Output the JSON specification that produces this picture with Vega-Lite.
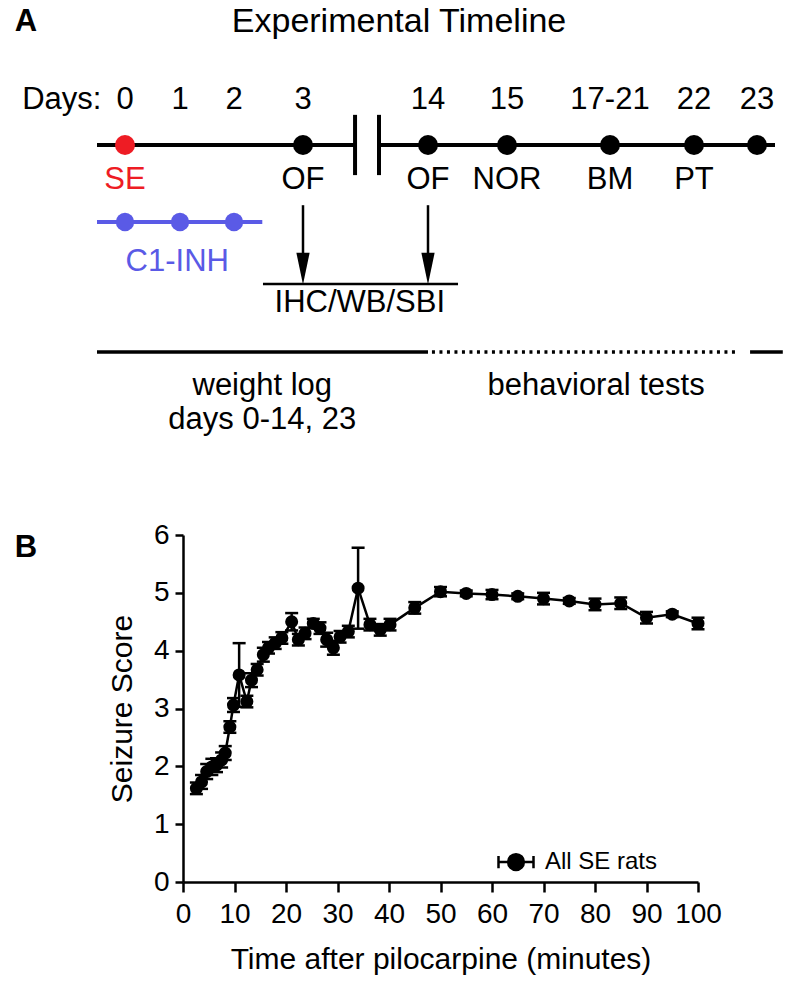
{
"$schema":"https://vega.github.io/schema/vega-lite/v6.json",
"width":800,"height":981,"padding":0,"autosize":{"type":"none"},"background":"white",
"config":{"view":{"stroke":null},"text":{"font":"Liberation Sans","color":"black","fontSize":31,"baseline":"middle","align":"center"}},
"datasets":{
 "days":[{"day":0,"label":"0"},{"day":1,"label":"1"},{"day":2,"label":"2"},{"day":3,"label":"3"},{"day":14,"label":"14"},{"day":15,"label":"15"},{"day":19,"label":"17-21"},{"day":22,"label":"22"},{"day":23,"label":"23"}],
 "milestones":[{"day":0,"event":"SE"},{"day":3,"event":"OF"},{"day":14,"event":"OF"},{"day":15,"event":"NOR"},{"day":19,"event":"BM"},{"day":22,"event":"PT"},{"day":23,"event":""}],
 "c1inh":[{"day":0},{"day":1},{"day":2}],
 "sampling":[{"day":3},{"day":14}],
 "seizure":[
  {"t":2.6,"mean":1.62,"sem":0.1},{"t":3.6,"mean":1.73,"sem":0.12},{"t":4.6,"mean":1.91,"sem":0.13},{"t":5.6,"mean":1.99,"sem":0.14},
  {"t":6.5,"mean":2.02,"sem":0.12},{"t":7.5,"mean":2.11,"sem":0.13},{"t":8.2,"mean":2.23,"sem":0.12},{"t":9.1,"mean":2.68,"sem":0.1},
  {"t":9.8,"mean":3.06,"sem":0.12},{"t":10.9,"mean":3.58,"sem":0.55},{"t":12.4,"mean":3.12,"sem":0.1},{"t":13.3,"mean":3.49,"sem":0.12},
  {"t":14.4,"mean":3.67,"sem":0.1},{"t":15.6,"mean":3.93,"sem":0.12},{"t":16.6,"mean":4.05,"sem":0.1},{"t":17.9,"mean":4.13,"sem":0.1},
  {"t":19.2,"mean":4.22,"sem":0.1},{"t":21.1,"mean":4.5,"sem":0.15},{"t":22.4,"mean":4.19,"sem":0.1},{"t":23.7,"mean":4.3,"sem":0.1},
  {"t":25.3,"mean":4.47,"sem":0.08},{"t":26.6,"mean":4.39,"sem":0.1},{"t":27.9,"mean":4.19,"sem":0.12},{"t":29.2,"mean":4.05,"sem":0.12},
  {"t":30.5,"mean":4.24,"sem":0.1},{"t":32.1,"mean":4.33,"sem":0.1},{"t":34,"mean":5.08,"sem":0.7},{"t":36.3,"mean":4.45,"sem":0.1},
  {"t":38.3,"mean":4.36,"sem":0.1},{"t":40.2,"mean":4.45,"sem":0.1},{"t":45,"mean":4.74,"sem":0.1},{"t":50,"mean":5.02,"sem":0.08},
  {"t":55,"mean":4.99,"sem":0.05},{"t":60,"mean":4.97,"sem":0.08},{"t":65,"mean":4.94,"sem":0.05},{"t":70,"mean":4.9,"sem":0.1},
  {"t":75,"mean":4.86,"sem":0.05},{"t":80,"mean":4.8,"sem":0.1},{"t":85,"mean":4.82,"sem":0.1},{"t":90,"mean":4.57,"sem":0.1},
  {"t":95,"mean":4.63,"sem":0.05},{"t":100,"mean":4.47,"sem":0.1}
 ]
},
"resolve":{"scale":{"x":"independent","y":"independent"}},
"layer":[
 {"layer":[
  {"data":{"values":[{}]},"mark":{"type":"rule","strokeWidth":4,"color":"black"},"encoding":{"x":{"datum":-0.5,"type":"quantitative","scale":{"type":"linear","domain":[-0.5,0,1,2,3,14,15,19,22,23,23.3],"range":[97,125,180,234,303,428,507,610,694,757,775],"zero":false,"nice":false},"axis":null},"x2":{"datum":7.58},"y":{"datum":2,"type":"quantitative","scale":{"type":"linear","domain":[0,1,2,3,4,5,6,7,8,9,10,11],"range":[22,100,145,180,222,262,284,303,352,386,420,548],"zero":false,"nice":false},"axis":null}}},
  {"data":{"values":[{}]},"mark":{"type":"rule","strokeWidth":4,"color":"black"},"encoding":{"x":{"datum":9.69,"type":"quantitative","scale":{"type":"linear","domain":[-0.5,0,1,2,3,14,15,19,22,23,23.3],"range":[97,125,180,234,303,428,507,610,694,757,775],"zero":false,"nice":false},"axis":null},"x2":{"datum":23.3},"y":{"datum":2,"type":"quantitative","scale":{"type":"linear","domain":[0,1,2,3,4,5,6,7,8,9,10,11],"range":[22,100,145,180,222,262,284,303,352,386,420,548],"zero":false,"nice":false},"axis":null}}},
  {"data":{"values":[{}]},"mark":{"type":"rule","strokeWidth":4,"color":"black"},"encoding":{"x":{"datum":7.58,"type":"quantitative","scale":{"type":"linear","domain":[-0.5,0,1,2,3,14,15,19,22,23,23.3],"range":[97,125,180,234,303,428,507,610,694,757,775],"zero":false,"nice":false},"axis":null},"y":{"datum":1.33,"type":"quantitative","scale":{"type":"linear","domain":[0,1,2,3,4,5,6,7,8,9,10,11],"range":[22,100,145,180,222,262,284,303,352,386,420,548],"zero":false,"nice":false},"axis":null},"y2":{"datum":2.86}}},
  {"data":{"values":[{}]},"mark":{"type":"rule","strokeWidth":4,"color":"black"},"encoding":{"x":{"datum":9.69,"type":"quantitative","scale":{"type":"linear","domain":[-0.5,0,1,2,3,14,15,19,22,23,23.3],"range":[97,125,180,234,303,428,507,610,694,757,775],"zero":false,"nice":false},"axis":null},"y":{"datum":1.33,"type":"quantitative","scale":{"type":"linear","domain":[0,1,2,3,4,5,6,7,8,9,10,11],"range":[22,100,145,180,222,262,284,303,352,386,420,548],"zero":false,"nice":false},"axis":null},"y2":{"datum":2.86}}},
  {"data":{"name":"milestones"},"mark":{"type":"point","filled":true,"size":400,"opacity":1},"encoding":{"x":{"field":"day","type":"quantitative","scale":{"type":"linear","domain":[-0.5,0,1,2,3,14,15,19,22,23,23.3],"range":[97,125,180,234,303,428,507,610,694,757,775],"zero":false,"nice":false},"axis":null},"y":{"datum":2,"type":"quantitative","scale":{"type":"linear","domain":[0,1,2,3,4,5,6,7,8,9,10,11],"range":[22,100,145,180,222,262,284,303,352,386,420,548],"zero":false,"nice":false},"axis":null},"color":{"condition":{"test":"datum.day === 0","value":"#ee1c24"},"value":"black"}}},
  {"data":{"name":"milestones"},"mark":{"type":"text"},"encoding":{"x":{"field":"day","type":"quantitative","scale":{"type":"linear","domain":[-0.5,0,1,2,3,14,15,19,22,23,23.3],"range":[97,125,180,234,303,428,507,610,694,757,775],"zero":false,"nice":false},"axis":null},"y":{"datum":3,"type":"quantitative","scale":{"type":"linear","domain":[0,1,2,3,4,5,6,7,8,9,10,11],"range":[22,100,145,180,222,262,284,303,352,386,420,548],"zero":false,"nice":false},"axis":null},"text":{"field":"event"},"color":{"condition":{"test":"datum.day === 0","value":"#ee1c24"},"value":"black"}}},
  {"data":{"name":"days"},"mark":{"type":"text"},"encoding":{"x":{"field":"day","type":"quantitative","scale":{"type":"linear","domain":[-0.5,0,1,2,3,14,15,19,22,23,23.3],"range":[97,125,180,234,303,428,507,610,694,757,775],"zero":false,"nice":false},"axis":null},"y":{"datum":1,"type":"quantitative","scale":{"type":"linear","domain":[0,1,2,3,4,5,6,7,8,9,10,11],"range":[22,100,145,180,222,262,284,303,352,386,420,548],"zero":false,"nice":false},"axis":null},"text":{"field":"label"}}},
  {"data":{"values":[{"label":"Days:"}]},"mark":{"type":"text","align":"right"},"encoding":{"x":{"datum":-0.42,"type":"quantitative","scale":{"type":"linear","domain":[-0.5,0,1,2,3,14,15,19,22,23,23.3],"range":[97,125,180,234,303,428,507,610,694,757,775],"zero":false,"nice":false},"axis":null},"y":{"datum":1,"type":"quantitative","scale":{"type":"linear","domain":[0,1,2,3,4,5,6,7,8,9,10,11],"range":[22,100,145,180,222,262,284,303,352,386,420,548],"zero":false,"nice":false},"axis":null},"text":{"field":"label"}}},
  {"data":{"values":[{}]},"mark":{"type":"rule","strokeWidth":4,"color":"#5a5ae6"},"encoding":{"x":{"datum":-0.5,"type":"quantitative","scale":{"type":"linear","domain":[-0.5,0,1,2,3,14,15,19,22,23,23.3],"range":[97,125,180,234,303,428,507,610,694,757,775],"zero":false,"nice":false},"axis":null},"x2":{"datum":2.41},"y":{"datum":4,"type":"quantitative","scale":{"type":"linear","domain":[0,1,2,3,4,5,6,7,8,9,10,11],"range":[22,100,145,180,222,262,284,303,352,386,420,548],"zero":false,"nice":false},"axis":null}}},
  {"data":{"name":"c1inh"},"mark":{"type":"point","filled":true,"size":340,"opacity":1,"color":"#5a5ae6"},"encoding":{"x":{"field":"day","type":"quantitative","scale":{"type":"linear","domain":[-0.5,0,1,2,3,14,15,19,22,23,23.3],"range":[97,125,180,234,303,428,507,610,694,757,775],"zero":false,"nice":false},"axis":null},"y":{"datum":4,"type":"quantitative","scale":{"type":"linear","domain":[0,1,2,3,4,5,6,7,8,9,10,11],"range":[22,100,145,180,222,262,284,303,352,386,420,548],"zero":false,"nice":false},"axis":null}}},
  {"data":{"values":[{"label":"C1-INH"}]},"mark":{"type":"text","color":"#5a5ae6"},"encoding":{"x":{"datum":0.95,"type":"quantitative","scale":{"type":"linear","domain":[-0.5,0,1,2,3,14,15,19,22,23,23.3],"range":[97,125,180,234,303,428,507,610,694,757,775],"zero":false,"nice":false},"axis":null},"y":{"datum":5,"type":"quantitative","scale":{"type":"linear","domain":[0,1,2,3,4,5,6,7,8,9,10,11],"range":[22,100,145,180,222,262,284,303,352,386,420,548],"zero":false,"nice":false},"axis":null},"text":{"field":"label"}}},
  {"data":{"name":"sampling"},"mark":{"type":"rule","strokeWidth":2.5,"color":"black"},"encoding":{"x":{"field":"day","type":"quantitative","scale":{"type":"linear","domain":[-0.5,0,1,2,3,14,15,19,22,23,23.3],"range":[97,125,180,234,303,428,507,610,694,757,775],"zero":false,"nice":false},"axis":null},"y":{"datum":3.6,"type":"quantitative","scale":{"type":"linear","domain":[0,1,2,3,4,5,6,7,8,9,10,11],"range":[22,100,145,180,222,262,284,303,352,386,420,548],"zero":false,"nice":false},"axis":null},"y2":{"datum":5.2}}},
  {"data":{"name":"sampling"},"mark":{"type":"point","filled":true,"size":1000,"opacity":1,"color":"black","shape":"M-0.42,-1L0.42,-1L0,1Z"},"encoding":{"x":{"field":"day","type":"quantitative","scale":{"type":"linear","domain":[-0.5,0,1,2,3,14,15,19,22,23,23.3],"range":[97,125,180,234,303,428,507,610,694,757,775],"zero":false,"nice":false},"axis":null},"y":{"datum":5.3,"type":"quantitative","scale":{"type":"linear","domain":[0,1,2,3,4,5,6,7,8,9,10,11],"range":[22,100,145,180,222,262,284,303,352,386,420,548],"zero":false,"nice":false},"axis":null}}},
  {"data":{"values":[{}]},"mark":{"type":"rule","strokeWidth":2.5,"color":"black"},"encoding":{"x":{"datum":2.42,"type":"quantitative","scale":{"type":"linear","domain":[-0.5,0,1,2,3,14,15,19,22,23,23.3],"range":[97,125,180,234,303,428,507,610,694,757,775],"zero":false,"nice":false},"axis":null},"x2":{"datum":14.38},"y":{"datum":6,"type":"quantitative","scale":{"type":"linear","domain":[0,1,2,3,4,5,6,7,8,9,10,11],"range":[22,100,145,180,222,262,284,303,352,386,420,548],"zero":false,"nice":false},"axis":null}}},
  {"data":{"values":[{"label":"IHC/WB/SBI"}]},"mark":{"type":"text"},"encoding":{"x":{"datum":8,"type":"quantitative","scale":{"type":"linear","domain":[-0.5,0,1,2,3,14,15,19,22,23,23.3],"range":[97,125,180,234,303,428,507,610,694,757,775],"zero":false,"nice":false},"axis":null},"y":{"datum":7,"type":"quantitative","scale":{"type":"linear","domain":[0,1,2,3,4,5,6,7,8,9,10,11],"range":[22,100,145,180,222,262,284,303,352,386,420,548],"zero":false,"nice":false},"axis":null},"text":{"field":"label"}}},
  {"data":{"values":[{}]},"mark":{"type":"rule","strokeWidth":3.5,"color":"black"},"encoding":{"x":{"datum":-0.5,"type":"quantitative","scale":{"type":"linear","domain":[-0.5,0,1,2,3,14,15,19,22,23,23.3],"range":[97,125,180,234,303,428,507,610,694,757,775],"zero":false,"nice":false},"axis":null},"x2":{"datum":14},"y":{"datum":8,"type":"quantitative","scale":{"type":"linear","domain":[0,1,2,3,4,5,6,7,8,9,10,11],"range":[22,100,145,180,222,262,284,303,352,386,420,548],"zero":false,"nice":false},"axis":null}}},
  {"data":{"values":[{}]},"mark":{"type":"rule","strokeWidth":3.5,"color":"black","strokeDash":[3,4.5]},"encoding":{"x":{"datum":14.05,"type":"quantitative","scale":{"type":"linear","domain":[-0.5,0,1,2,3,14,15,19,22,23,23.3],"range":[97,125,180,234,303,428,507,610,694,757,775],"zero":false,"nice":false},"axis":null},"x2":{"datum":22.68},"y":{"datum":8,"type":"quantitative","scale":{"type":"linear","domain":[0,1,2,3,4,5,6,7,8,9,10,11],"range":[22,100,145,180,222,262,284,303,352,386,420,548],"zero":false,"nice":false},"axis":null}}},
  {"data":{"values":[{}]},"mark":{"type":"rule","strokeWidth":3.5,"color":"black"},"encoding":{"x":{"datum":22.89,"type":"quantitative","scale":{"type":"linear","domain":[-0.5,0,1,2,3,14,15,19,22,23,23.3],"range":[97,125,180,234,303,428,507,610,694,757,775],"zero":false,"nice":false},"axis":null},"x2":{"datum":23.43},"y":{"datum":8,"type":"quantitative","scale":{"type":"linear","domain":[0,1,2,3,4,5,6,7,8,9,10,11],"range":[22,100,145,180,222,262,284,303,352,386,420,548],"zero":false,"nice":false},"axis":null}}},
  {"data":{"values":[{"label":"weight log"}]},"mark":{"type":"text"},"encoding":{"x":{"datum":2.41,"type":"quantitative","scale":{"type":"linear","domain":[-0.5,0,1,2,3,14,15,19,22,23,23.3],"range":[97,125,180,234,303,428,507,610,694,757,775],"zero":false,"nice":false},"axis":null},"y":{"datum":9,"type":"quantitative","scale":{"type":"linear","domain":[0,1,2,3,4,5,6,7,8,9,10,11],"range":[22,100,145,180,222,262,284,303,352,386,420,548],"zero":false,"nice":false},"axis":null},"text":{"field":"label"}}},
  {"data":{"values":[{"label":"days 0-14, 23"}]},"mark":{"type":"text"},"encoding":{"x":{"datum":2.41,"type":"quantitative","scale":{"type":"linear","domain":[-0.5,0,1,2,3,14,15,19,22,23,23.3],"range":[97,125,180,234,303,428,507,610,694,757,775],"zero":false,"nice":false},"axis":null},"y":{"datum":10,"type":"quantitative","scale":{"type":"linear","domain":[0,1,2,3,4,5,6,7,8,9,10,11],"range":[22,100,145,180,222,262,284,303,352,386,420,548],"zero":false,"nice":false},"axis":null},"text":{"field":"label"}}},
  {"data":{"values":[{"label":"behavioral tests"}]},"mark":{"type":"text"},"encoding":{"x":{"datum":18.46,"type":"quantitative","scale":{"type":"linear","domain":[-0.5,0,1,2,3,14,15,19,22,23,23.3],"range":[97,125,180,234,303,428,507,610,694,757,775],"zero":false,"nice":false},"axis":null},"y":{"datum":9,"type":"quantitative","scale":{"type":"linear","domain":[0,1,2,3,4,5,6,7,8,9,10,11],"range":[22,100,145,180,222,262,284,303,352,386,420,548],"zero":false,"nice":false},"axis":null},"text":{"field":"label"}}},
  {"data":{"values":[{"label":"Experimental Timeline"}]},"mark":{"type":"text","fontSize":34},"encoding":{"x":{"datum":11.45,"type":"quantitative","scale":{"type":"linear","domain":[-0.5,0,1,2,3,14,15,19,22,23,23.3],"range":[97,125,180,234,303,428,507,610,694,757,775],"zero":false,"nice":false},"axis":null},"y":{"datum":0,"type":"quantitative","scale":{"type":"linear","domain":[0,1,2,3,4,5,6,7,8,9,10,11],"range":[22,100,145,180,222,262,284,303,352,386,420,548],"zero":false,"nice":false},"axis":null},"text":{"field":"label"}}},
  {"data":{"values":[{"label":"A"}]},"mark":{"type":"text","fontSize":31,"fontWeight":"bold"},"encoding":{"x":{"datum":-1.77,"type":"quantitative","scale":{"type":"linear","domain":[-0.5,0,1,2,3,14,15,19,22,23,23.3],"range":[97,125,180,234,303,428,507,610,694,757,775],"zero":false,"nice":false},"axis":null},"y":{"datum":0,"type":"quantitative","scale":{"type":"linear","domain":[0,1,2,3,4,5,6,7,8,9,10,11],"range":[22,100,145,180,222,262,284,303,352,386,420,548],"zero":false,"nice":false},"axis":null},"text":{"field":"label"}}},
  {"data":{"values":[{"label":"B"}]},"mark":{"type":"text","fontSize":31,"fontWeight":"bold"},"encoding":{"x":{"datum":-1.77,"type":"quantitative","scale":{"type":"linear","domain":[-0.5,0,1,2,3,14,15,19,22,23,23.3],"range":[97,125,180,234,303,428,507,610,694,757,775],"zero":false,"nice":false},"axis":null},"y":{"datum":11,"type":"quantitative","scale":{"type":"linear","domain":[0,1,2,3,4,5,6,7,8,9,10,11],"range":[22,100,145,180,222,262,284,303,352,386,420,548],"zero":false,"nice":false},"axis":null},"text":{"field":"label"}}}
 ]},
 {"data":{"name":"seizure"},"layer":[
  {"mark":{"type":"line","color":"black","strokeWidth":2.5},"encoding":{
    "x":{"field":"t","type":"quantitative","scale":{"domain":[0,100],"range":[183,698],"zero":false,"nice":false},"axis":{"title":"Time after pilocarpine (minutes)","orient":"bottom","offset":-99,"values":[0,5,10,15,20,25,30,35,40,45,50,55,60,65,70,75,80,85,90,95,100],"format":"d","labelExpr":"datum.value % 10 === 0 ? datum.label : ''","tickSize":{"condition":{"test":"datum.value % 10 === 0","value":10},"value":6},"grid":false,"domainColor":"black","domainWidth":2.5,"tickColor":"black","tickWidth":2.5,"labelFont":"Liberation Sans","labelFontSize":28,"labelColor":"black","labelPadding":8,"labelOverlap":false,"labelFlush":false,"titleFont":"Liberation Sans","titleFontSize":30,"titleFontWeight":"normal","titleColor":"black","titlePadding":16}},
    "y":{"field":"mean","type":"quantitative","scale":{"domain":[0,6],"range":[882,535],"zero":false,"nice":false},"axis":{"title":"Seizure Score","orient":"left","offset":-183,"values":[0,1,2,3,4,5,6],"format":"d","tickSize":8,"grid":false,"domainColor":"black","domainWidth":2.5,"tickColor":"black","tickWidth":2.5,"labelFont":"Liberation Sans","labelFontSize":28,"labelColor":"black","labelPadding":6,"labelOverlap":false,"labelFlush":false,"titleFont":"Liberation Sans","titleFontSize":30,"titleFontWeight":"normal","titleColor":"black","titlePadding":16}}}},
  {"mark":{"type":"errorbar","color":"black","opacity":1,"thickness":2.5,"rule":{"color":"black","strokeWidth":2.5,"opacity":1},"ticks":{"size":13,"thickness":2.5,"color":"black","opacity":1}},"encoding":{
    "x":{"field":"t","type":"quantitative","scale":{"domain":[0,100],"range":[183,698],"zero":false,"nice":false},"title":"Time after pilocarpine (minutes)"},
    "y":{"field":"mean","type":"quantitative","scale":{"domain":[0,6],"range":[882,535],"zero":false,"nice":false},"title":"Seizure Score","axis":{"format":"d"}},
    "yError":{"field":"sem"}}},
  {"mark":{"type":"point","filled":true,"size":170,"opacity":1},"encoding":{
    "x":{"field":"t","type":"quantitative","scale":{"domain":[0,100],"range":[183,698],"zero":false,"nice":false},"title":"Time after pilocarpine (minutes)"},
    "y":{"field":"mean","type":"quantitative","scale":{"domain":[0,6],"range":[882,535],"zero":false,"nice":false},"title":"Seizure Score"},
    "color":{"datum":"All SE rats","type":"nominal","scale":{"range":["black"]},"legend":{"title":null,"orient":"none","legendX":497,"legendY":843,"padding":0,"symbolType":"M-0.45,0A0.45,0.45,0,1,0,0.45,0A0.45,0.45,0,1,0,-0.45,0Z M-1,0H1 M-1,-0.35V0.35 M1,-0.35V0.35","symbolSize":1225,"symbolStrokeColor":"black","symbolStrokeWidth":2.5,"symbolFillColor":"black","labelFont":"Liberation Sans","labelFontSize":24,"labelColor":"black","labelOffset":10}}}}
 ]}
]
}
